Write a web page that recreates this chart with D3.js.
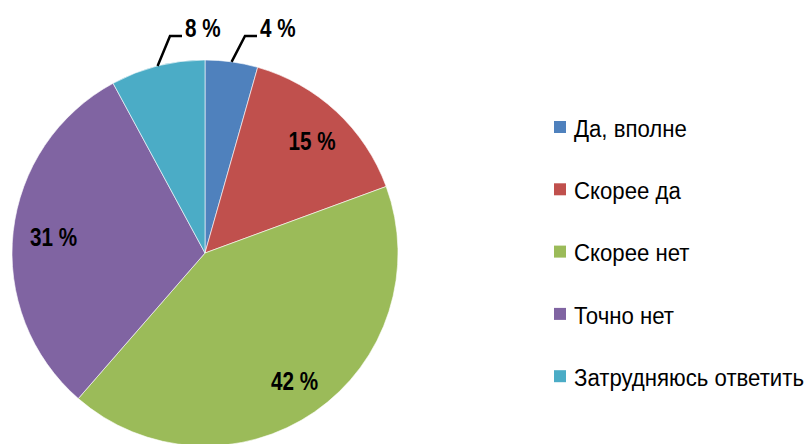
<!DOCTYPE html>
<html lang="ru">
<head>
<meta charset="UTF-8">
<title>Pie</title>
<script src="https://d3js.org/d3.v7.min.js"></script>
<style>
    body { margin: 0; background: #fff; }
    svg text { font-family: "Liberation Sans", Arial, sans-serif; }
    .lbl { font-size: 25.5px; font-weight: bold; fill: #000; }
    .leg { font-size: 24.4px; fill: #000; }
</style>
</head>
<body>
<div id="chart"></div>
<script>
    // data
    const categories = ["Да, вполне", "Скорее да", "Скорее нет", "Точно нет", "Затрудняюсь ответить"];
    const values = [4.4, 15.0, 42.0, 30.7, 7.9];
    const labels = ["4 %", "15 %", "42 %", "31 %", "8 %"];
    const colors = ["#4F81BD", "#C0504D", "#9BBB59", "#8064A2", "#4BACC6"];

    const W = 806, H = 444;
    const cx = 205, cy = 253, r = 193;

    const svg = d3.select("#chart").append("svg")
        .attr("width", W).attr("height", H);

    const pie = d3.pie().sort(null).value(d => d)(values);
    const arc = d3.arc().innerRadius(0).outerRadius(r);
    const labelArc = d3.arc().innerRadius(r * 0.8).outerRadius(r * 0.8);

    const g = svg.append("g").attr("transform", `translate(${cx},${cy})`);

    g.selectAll("path")
        .data(pie)
        .enter()
        .append("path")
        .attr("d", arc)
        .attr("fill", (d, i) => colors[i])
        .attr("stroke", "#fff")
        .attr("stroke-width", 0.6);

    // small slices get labels outside with leader lines
    const outside = { 0: { ex: 40, ey: -217, len: 12 }, 4: { ex: -35, ey: -217, len: 12 } };

    pie.forEach((d, i) => {
        if (outside[i]) {
            const o = outside[i];
            const a = (d.startAngle + d.endAngle) / 2;
            const sx = Math.sin(a) * r, sy = -Math.cos(a) * r;
            g.append("polyline")
                .attr("points", `${sx},${sy} ${o.ex},${o.ey} ${o.ex + o.len},${o.ey}`)
                .attr("fill", "none")
                .attr("stroke", "#000")
                .attr("stroke-width", 2.5);
            g.append("text")
                .attr("class", "lbl")
                .attr("transform", `translate(${o.ex + o.len + 3},${o.ey + 1}) scale(0.81,1)`)
                .text(labels[i]);
        } else {
            const c = labelArc.centroid(d);
            g.append("text")
                .attr("class", "lbl")
                .attr("transform", `translate(${c[0] + 2},${c[1] + 1}) scale(0.81,1)`)
                .attr("text-anchor", "middle")
                .attr("dy", "0.36em")
                .text(labels[i]);
        }
    });

    // legend
    const legend = svg.append("g").attr("transform", "translate(554,127)");
    const row = legend.selectAll("g")
        .data(categories)
        .enter()
        .append("g")
        .attr("transform", (d, i) => `translate(0,${i * 62.3})`);

    row.append("rect")
        .attr("x", 0).attr("y", -6)
        .attr("width", 12).attr("height", 12)
        .attr("fill", (d, i) => colors[i]);

    row.append("text")
        .attr("class", "leg")
        .attr("transform", "translate(20,1) scale(0.91,1)")
        .attr("dy", "0.36em")
        .text(d => d);
</script>
</body>
</html>
